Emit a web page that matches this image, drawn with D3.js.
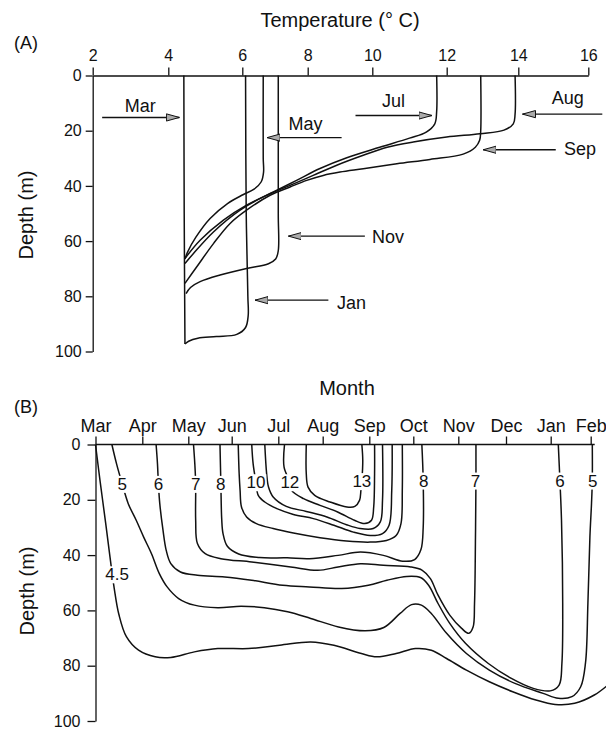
<!DOCTYPE html>
<html>
<head>
<meta charset="utf-8">
<script src="https://cdn.jsdelivr.net/npm/d3@7"></script>
<style>
  body { margin: 0; background: #fff; }
  svg { display: block; font-family: "Liberation Sans", Arial, Helvetica, sans-serif; }
  .ax path, .ax line { stroke: #111; stroke-width: 1.3; }
  .ax text { font-size: 16px; fill: #111; font-family: "Liberation Sans", Arial, sans-serif; }
  .prof, .iso { fill: none; stroke: #111; stroke-width: 1.5; }
  .ttl { font-size: 20px; fill: #111; }
  .lab { font-size: 18px; fill: #111; }
  .isolab { font-size: 17px; fill: #111; }
</style>
</head>
<body>
<svg id="chart" width="606" height="730"></svg>
<script>
// ---------- panel A: monthly temperature profiles, [temp °C, depth m]
const tempTicks = [2, 4, 6, 8, 10, 12, 14, 16];
const depthTicks = [0, 20, 40, 60, 80, 100];

const profMar = [[4.42,0],[4.43,50],[4.45,97.3]];
const profMay = [[6.64,0],[6.64,30],[6.65,35],[6.58,38.5],[6.36,41.2],[6.02,43.2],[5.6,46.4],[5.13,51.8],[4.75,58.5],[4.52,64],[4.45,66.5]];
const profJul = [[11.73,0],[11.73,13],[11.68,17.5],[11.45,20.5],[11.0,22.7],[10.2,26],[9.21,29.8],[8.38,33.7],[7.66,38],[6.95,42.2],[6.13,47],[5.49,52.4],[4.86,59.7],[4.45,66.3]];
const profAug = [[13.91,0],[13.91,14],[13.86,17.5],[13.6,19.8],[12.93,21.1],[12.0,22.3],[11.1,24.1],[10.4,26],[9.72,28.9],[8.9,32.5],[8.17,36.2],[7.46,39.8],[6.64,44],[5.94,48.8],[5.22,56.7],[4.68,64.5],[4.45,68.1]];
const profSep = [[12.95,0],[12.95,20],[12.92,23.5],[12.8,26],[12.46,28.5],[11.55,30.4],[10.66,32],[9.72,33.8],[9.0,35],[8.48,36.2],[7.97,38],[7.46,40.4],[6.85,43.4],[6.13,48.8],[5.67,53.6],[5.22,60.9],[4.77,69.3],[4.45,75.3]];
const profNov = [[7.1,0],[7.1,50],[7.1,63.5],[7.02,66.5],[6.8,68.2],[6.13,69.9],[5.4,72.3],[4.86,74.7],[4.6,76.8],[4.48,79]];
const profJan = [[6.1,0],[6.12,50],[6.17,80],[6.18,87],[6.1,91.3],[5.85,93.8],[5.3,94.6],[4.8,95.2],[4.55,96.3],[4.45,97.3]];

// arrow call-outs: label, tail temp, head temp, depth, label temp, label baseline depth
const calloutNames = ['Mar', 'May', 'Jul', 'Aug', 'Sep', 'Nov', 'Jan'];
const calloutFrom  = [2.25, 9.05, 9.48, 16.4, 15.07, 9.77, 8.64];
const calloutTo    = [4.30, 6.76, 11.6, 14.12, 13.02, 7.41, 6.39];
const calloutDepth = [15.2, 22.5, 14.5, 14.0, 26.9, 58.2, 81.4];
const calloutTextT = [3.26, 7.93, 10.57, 15.41, 15.76, 10.42, 9.36];
const calloutTextD = [13.3, 19.9, 11.5, 10.2, 28.9, 60.8, 84.6];

// ---------- panel B: isotherms, [month index from Mar, depth m]
const months = ['Mar','Apr','May','Jun','Jul','Aug','Sep','Oct','Nov','Dec','Jan','Feb'];

const iso45 = [[0,0],[0.1,13.5],[0.21,27.5],[0.31,40.7],[0.4,52],[0.5,61.5],[0.66,69.5],[0.92,74.4],[1.28,76.8],[1.62,77],[2.14,75],[2.68,73.8],[3.36,73.8],[4.03,72.6],[4.73,71.4],[5.24,72.6],[5.83,75.6],[6.17,76.8],[6.61,75.6],[7.05,73.8],[7.4,74.4],[7.74,77.4],[8.17,81.6],[8.65,85.8],[9.15,89.4],[9.67,92.4],[10.11,94],[10.6,93.6],[11.09,90.6],[11.43,87]];
const iso5 = [[0.35,0],[0.45,7],[0.57,14.2],[0.7,21.4],[0.87,27.4],[1.03,33.5],[1.2,39.5],[1.37,46.7],[1.54,51.5],[1.79,55.7],[2.14,58.1],[2.68,59],[3.2,58.5],[3.7,59],[4.21,60.5],[4.73,62.9],[5.34,66],[5.91,67.4],[6.33,66.2],[6.7,61.1],[6.96,57.9],[7.18,58.1],[7.4,61.1],[7.74,68.3],[8.17,75.6],[8.65,81.6],[9.2,86.4],[9.83,90],[10.19,91.8],[10.53,91.2],[10.75,87.6],[10.87,79],[10.93,57.5],[10.98,33.5],[11.02,21.4],[11.04,13],[11.04,0]];
const iso6 = [[1.3,0],[1.33,7],[1.35,14.2],[1.38,21.4],[1.45,31],[1.52,38.3],[1.62,43.1],[1.83,46.1],[2.21,47.3],[2.84,47.9],[3.43,49.1],[4.1,50.9],[4.7,51.5],[5.41,52.1],[5.98,50.9],[6.4,49.1],[6.85,47.7],[7.16,48.1],[7.34,50.9],[7.55,57.5],[7.81,64.7],[8.15,71.9],[8.63,79.2],[9.12,84.6],[9.61,88.2],[9.99,89.1],[10.21,87],[10.28,79.2],[10.3,57.5],[10.27,27.4],[10.23,13],[10.19,0]];
const iso7 = [[2.12,0],[2.15,7],[2.17,14.2],[2.17,27.4],[2.21,35.8],[2.39,39.5],[2.75,41.3],[3.43,42.5],[4.28,44.3],[4.89,45.5],[5.33,44.3],[5.81,43.1],[6.32,43.7],[6.94,44.3],[7.2,45.5],[7.38,48.5],[7.55,54.5],[7.81,61.7],[8.07,66.5],[8.22,68.3],[8.31,66],[8.34,57.5],[8.36,33.5],[8.37,13],[8.37,0]];
const iso8 = [[2.73,0],[2.75,14],[2.77,27],[2.8,32.2],[2.9,36.8],[3.15,39.6],[3.6,40.9],[4.2,41],[4.7,41.3],[5.33,40.1],[5.81,38.9],[6.32,40.1],[6.76,42.2],[7.03,41.6],[7.17,38],[7.22,30],[7.22,13],[7.19,0]];
const iso9 = [[3.14,0],[3.16,10.6],[3.18,16.6],[3.21,22.6],[3.32,26.2],[3.53,28.6],[3.89,30.4],[4.34,32],[4.94,33.7],[5.51,34.9],[6.02,35.3],[6.39,34.7],[6.61,32.9],[6.72,28.6],[6.75,16.6],[6.75,0]];
const iso10 = [[3.43,0],[3.46,7],[3.52,13.6],[3.57,18.4],[3.71,20.8],[3.97,23.2],[4.34,25.3],[4.79,26.8],[5.24,29.2],[5.66,31.7],[6.02,32.9],[6.3,32.2],[6.45,29.2],[6.51,16.6],[6.52,0]];
const iso11 = [[3.71,0],[3.75,10.6],[3.79,15.4],[3.89,19],[4.18,22.4],[4.63,24.2],[5.09,26.2],[5.51,29],[5.8,30.4],[6.09,30.4],[6.25,28],[6.3,20.2],[6.3,0]];
const iso12 = [[4.14,0],[4.13,8.2],[4.26,13.6],[4.3,16.6],[4.57,19.6],[4.94,22],[5.32,24.4],[5.68,27.4],[5.9,28.6],[6.05,27.4],[6.1,22.6],[6.12,10.6],[6.12,0]];
const iso13 = [[4.63,0],[4.63,10.6],[4.67,15.4],[4.82,18.4],[5.16,20.8],[5.52,22.6],[5.69,22.4],[5.79,20.2],[5.82,16.6],[5.84,13.2],[5.86,5.8],[5.84,0]];

const isoText   = ['5', '6', '7', '8', '10', '12', '13', '8', '7', '6', '5', '4.5'];
const isoTextM  = [0.57, 1.35, 2.17, 2.75, 3.52, 4.26, 5.84, 7.23, 8.36, 10.23, 11.05, 0.46];
const isoTextD  = [14.2, 14.2, 14.2, 14.2, 13.6, 13.6, 13.2, 13, 13, 13, 13, 46.9];

// ---------- drawing
const svg = d3.select('#chart');

svg.append('defs').append('marker')
  .attr('id', 'head').attr('viewBox', '0 -5 14 10').attr('refX', 13).attr('refY', 0)
  .attr('markerWidth', 14).attr('markerHeight', 10).attr('markerUnits', 'userSpaceOnUse').attr('orient', 'auto')
  .append('path').attr('d', 'M0,-3.6L13,0L0,3.6Z')
  .attr('fill', '#aaa').attr('stroke', '#111').attr('stroke-width', 1);

// panel A scales (the printed axis is slightly uneven, so map each tick)
const xA = d3.scaleLinear().domain(tempTicks).range([92.7, 168.3, 242.3, 307.7, 372.3, 446.7, 518.3, 588.3]);
const yA = d3.scaleLinear().domain([0, 100]).range([75.5, 351.5]);

svg.append('g').attr('class', 'ax').attr('transform', `translate(0,${yA(0)})`)
  .call(d3.axisTop(xA).tickValues(tempTicks).tickSize(8).tickPadding(7).tickSizeOuter(0));
svg.append('g').attr('class', 'ax').attr('transform', `translate(${xA(2)},0)`)
  .call(d3.axisLeft(yA).tickValues(depthTicks).tickSize(7).tickPadding(4).tickSizeOuter(0));

const lineA = d3.line().x(d => xA(d[0])).y(d => yA(d[1])).curve(d3.curveCatmullRom.alpha(0.5));
svg.append('g').selectAll('path')
  .data([profMar, profMay, profJul, profAug, profSep, profNov, profJan])
  .join('path').attr('class', 'prof').attr('d', lineA);

const co = svg.append('g');
calloutNames.forEach((n, i) => {
  co.append('line')
    .attr('x1', xA(calloutFrom[i])).attr('x2', xA(calloutTo[i]))
    .attr('y1', yA(calloutDepth[i])).attr('y2', yA(calloutDepth[i]))
    .attr('stroke', '#111').attr('stroke-width', 1.4).attr('marker-end', 'url(#head)');
  co.append('text').attr('class', 'lab').attr('text-anchor', 'middle')
    .attr('x', xA(calloutTextT[i])).attr('y', yA(calloutTextD[i])).text(n);
});

svg.append('text').attr('class', 'ttl').attr('text-anchor', 'middle')
  .attr('x', 340).attr('y', 27).text('Temperature (° C)');
svg.append('text').attr('class', 'ttl').attr('x', 14).attr('y', 49).style('font-size', '18px').text('(A)');
svg.append('text').attr('class', 'ttl').attr('text-anchor', 'middle')
  .attr('transform', 'translate(33,215) rotate(-90)').text('Depth (m)');

// panel B scales
const xB = d3.scaleLinear().domain(d3.range(12))
  .range([95.5, 142.3, 188.3, 231.7, 278.3, 322.7, 369.3, 413.3, 458.3, 506, 550.7, 590.7]);
const yB = d3.scaleLinear().domain([0, 100]).range([444.5, 721]);

const gx = svg.append('g').attr('class', 'ax').attr('transform', `translate(0,${yB(0)})`)
  .call(d3.axisTop(xB).tickValues(d3.range(12)).tickFormat(i => months[i])
    .tickSize(8).tickPadding(5).tickSizeOuter(0));
gx.select('.domain').attr('d', `M${xB(0)},0H${xB(11.1)}`);
gx.selectAll('text').style('font-size', '18px');
svg.append('g').attr('class', 'ax').attr('transform', `translate(${xB(0)},0)`)
  .call(d3.axisLeft(yB).tickValues(depthTicks).tickSize(8).tickPadding(7).tickSizeOuter(0));

const lineB = d3.line().x(d => xB(d[0])).y(d => yB(d[1])).curve(d3.curveCatmullRom.alpha(0.5));
svg.append('g').selectAll('path')
  .data([iso45, iso5, iso6, iso7, iso8, iso9, iso10, iso11, iso12, iso13])
  .join('path').attr('class', 'iso').attr('d', lineB);

const il = svg.append('g');
isoText.forEach((t, i) => {
  const g = il.append('g');
  const tx = g.append('text').attr('class', 'isolab').attr('text-anchor', 'middle').attr('dy', '0.36em')
    .attr('x', xB(isoTextM[i])).attr('y', yB(isoTextD[i])).text(t);
  const b = tx.node().getBBox();
  g.insert('rect', 'text').attr('x', b.x - 1).attr('y', b.y + 1)
    .attr('width', b.width + 2).attr('height', b.height - 2).attr('fill', '#fff');
});

svg.append('text').attr('class', 'ttl').attr('text-anchor', 'middle')
  .attr('x', 347).attr('y', 395).text('Month');
svg.append('text').attr('class', 'ttl').attr('x', 14).attr('y', 413).style('font-size', '18px').text('(B)');
svg.append('text').attr('class', 'ttl').attr('text-anchor', 'middle')
  .attr('transform', 'translate(34,591) rotate(-90)').text('Depth (m)');
</script>
</body>
</html>
